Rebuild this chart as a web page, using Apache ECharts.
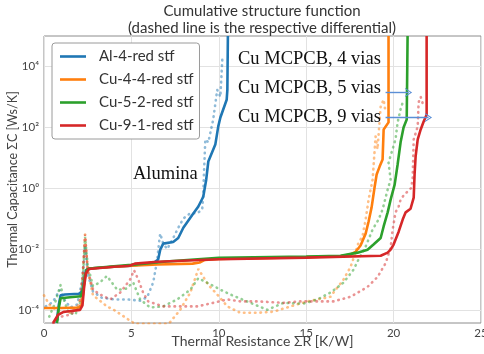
<!DOCTYPE html>
<html>
<head>
<meta charset="utf-8">
<script src="https://cdn.jsdelivr.net/npm/echarts@6/dist/echarts.min.js"></script>
<style>
  html, body { margin: 0; padding: 0; background: #fff; }
  #chart { width: 484px; height: 354px; }
</style>
</head>
<body>
<div id="chart"></div>
<script>
// Legend names and colours of the four samples
const sampleNames = ['Al-4-red stf', 'Cu-4-4-red stf', 'Cu-5-2-red stf', 'Cu-9-1-red stf'];
const sampleColors = ['#1f77b4', '#ff7f0e', '#2ca02c', '#d62728'];

// Axis ticks
const xTickValues = [0, 5, 10, 15, 20, 25];
const yTickValues = [1e-4, 1e-2, 1, 1e2, 1e4];
const yMin = 3.7e-5;
const yMax = 1e5;

// Cumulative structure functions: [ΣR (K/W), ΣC (Ws/K)]
const alCumulative = [
  [0.72, 3.7e-5], [0.85, 1.5e-4], [0.95, 3.0e-4], [1.2, 3.2e-4], [2.0, 3.4e-4], [2.2, 4.2e-4],
  [2.3, 1.0e-3], [2.4, 2.0e-3], [2.6, 2.3e-3], [4.0, 2.6e-3], [5.0, 2.8e-3], [6.3, 3.6e-3],
  [6.53, 4.5e-3], [6.65, 9.5e-3], [6.82, 1.5e-2], [7.39, 1.7e-2], [7.68, 2.3e-2], [7.97, 5e-2],
  [8.48, 0.13], [8.83, 0.25], [9.11, 0.52], [9.28, 1.9], [9.40, 7.5], [9.80, 27], [9.97, 107],
  [10.09, 210], [10.45, 800], [10.49, 1700], [10.52, 1e5]
];
const cu44Cumulative = [
  [0, 1.15e-4], [1.0, 1.15e-4], [2.0, 1.2e-4], [2.15, 1.4e-4], [2.25, 4e-4], [2.35, 1.3e-3],
  [2.45, 2.0e-3], [2.6, 2.3e-3], [4.0, 2.6e-3], [5.0, 2.8e-3], [6.5, 3.1e-3], [8.5, 3.3e-3],
  [8.9, 3.6e-3], [9.2, 4.4e-3], [10, 4.7e-3], [15, 5.4e-3], [17.0, 5.9e-3], [17.54, 6.6e-3],
  [17.82, 8e-3], [18.11, 1.3e-2], [18.40, 3.2e-2], [18.57, 8e-2], [18.74, 0.23], [18.91, 1.05],
  [19.03, 2.8], [19.2, 5.1], [19.37, 8.7], [19.43, 85], [19.71, 145], [19.71, 1e5]
];
const cu52Cumulative = [
  [0.74, 3.7e-5], [0.85, 1.2e-4], [0.95, 2.4e-4], [1.5, 2.6e-4], [2.1, 2.8e-4], [2.25, 5e-4],
  [2.35, 1.3e-3], [2.45, 2.1e-3], [2.6, 2.3e-3], [4.0, 2.7e-3], [5.0, 3.0e-3], [7.0, 3.9e-3],
  [10, 5.1e-3], [15, 5.7e-3], [16.96, 6e-3], [17.94, 7.6e-3], [18.51, 9.5e-3], [18.85, 1.4e-2],
  [19.26, 2.3e-2], [19.43, 5.5e-2], [19.66, 0.16], [19.83, 0.42], [20.06, 1.3], [20.23, 6],
  [20.40, 32], [20.57, 98], [20.75, 180], [20.8, 1e5]
];
const cu91Cumulative = [
  [0.52, 3.7e-5], [0.8, 6.8e-5], [1.1, 8.5e-5], [2.06, 1e-4], [2.2, 1.4e-4], [2.3, 6e-4],
  [2.4, 1.6e-3], [2.55, 2.2e-3], [4.0, 2.6e-3], [4.9, 2.8e-3], [5.2, 3.3e-3], [6.5, 3.8e-3],
  [10, 4.6e-3], [15, 5.2e-3], [19.26, 6e-3], [19.66, 7.6e-3], [19.83, 9.5e-3], [20.0, 1.4e-2],
  [20.29, 3.7e-2], [20.52, 9.3e-2], [20.69, 0.16], [20.97, 0.21], [21.15, 0.49], [21.2, 2.8],
  [21.26, 11], [21.38, 40], [21.55, 85], [21.72, 155], [21.89, 260], [21.89, 1e5]
];

// Differential structure functions (dotted)
const alDifferential = [
  [0.1, 1.3e-4], [0.5, 1.8e-4], [0.9, 4.5e-4], [1.1, 2.5e-4], [1.5, 1.2e-4], [1.9, 1.5e-4],
  [2.2, 1e-3], [2.35, 1.2e-2], [2.5, 1.5e-3], [2.8, 4e-4], [3.3, 2.5e-4], [4.0, 2.2e-4],
  [4.8, 2.2e-4], [5.5, 2e-4], [5.9, 2.6e-4], [6.25, 8e-4], [6.48, 4.5e-3], [6.6, 2e-2],
  [6.65, 3.2e-2], [6.82, 1.5e-2], [7.05, 1e-2], [7.34, 2e-2], [7.68, 5e-2], [7.97, 0.1],
  [8.37, 0.15], [8.77, 0.15], [9.05, 0.2], [9.11, 0.6], [9.15, 3], [9.23, 40], [9.4, 32],
  [9.68, 180], [9.91, 1700], [10.09, 1000], [10.2, 1.7e4], [10.3, 1.5e4]
];
const cu44Differential = [
  [0.0, 3e-4], [0.3, 1.5e-4], [0.7, 1e-4], [1.0, 9e-5], [1.5, 8e-5], [2.0, 1.5e-4], [2.2, 1e-3],
  [2.35, 3e-2], [2.5, 2e-3], [2.8, 3e-4], [3.2, 2e-4], [3.6, 1.3e-4], [4.0, 1e-4], [4.4, 7e-5],
  [4.9, 4.5e-5], [5.2, 3.5e-5], [7.1, 3.5e-5], [7.22, 4e-5], [7.79, 1e-4], [8.37, 3.7e-4],
  [8.83, 2.2e-3], [9.40, 6.6e-4], [9.91, 3.2e-4], [10.49, 1.3e-4], [11.23, 8e-5], [12.21, 8e-5],
  [13.12, 8.7e-5], [14.10, 1.3e-4], [15.07, 1.9e-4], [15.64, 2.2e-4], [16.39, 2.7e-4],
  [16.56, 3.7e-4], [17.13, 9.8e-4], [17.54, 2.6e-3], [17.82, 7.6e-3], [17.99, 1.6e-2],
  [18.22, 2.6e-2], [18.40, 9.3e-2], [18.57, 0.42], [18.80, 1.9], [18.97, 50], [19.08, 19],
  [19.26, 480], [19.43, 810], [19.54, 310]
];
const cu52Differential = [
  [0.3, 6e-5], [0.6, 1.5e-4], [0.95, 6.6e-4], [1.1, 2.5e-4], [1.4, 8e-5], [1.8, 7e-5],
  [2.1, 2e-4], [2.25, 2e-3], [2.35, 2.5e-2], [2.5, 3e-3], [2.8, 6e-4], [3.2, 8e-4],
  [3.6, 1.3e-3], [4.2, 4.5e-4], [4.7, 5e-4], [5.1, 8e-4], [5.5, 2.2e-4], [6.07, 1.2e-4],
  [6.82, 1.3e-4], [7.62, 2.2e-4], [8.37, 4.6e-4], [8.83, 1.1e-3], [9.34, 7.8e-4], [10.09, 4.6e-4],
  [10.66, 3.2e-4], [11.81, 1.7e-4], [12.78, 1e-4], [13.70, 1.7e-4], [14.84, 1.6e-4],
  [15.64, 2.2e-4], [16.39, 3.7e-4], [17.13, 7.8e-4], [17.71, 2.1e-3], [17.99, 4.5e-3],
  [18.40, 1.2e-2], [18.80, 4.4e-2], [19.14, 9.3e-2], [19.37, 0.2], [19.66, 0.9], [19.83, 1.9],
  [19.71, 6.9], [20.11, 40], [20.23, 145], [20.40, 390], [20.57, 810]
];
const cu91Differential = [
  [0.52, 3.7e-5], [1.0, 6e-5], [1.5, 7e-5], [2.06, 1.2e-4], [2.2, 1e-3], [2.35, 3e-2],
  [2.5, 2e-3], [2.81, 4.6e-4], [3.21, 3.2e-4], [3.78, 2.2e-4], [4.36, 3.7e-4], [4.93, 1e-3],
  [5.15, 2e-3], [5.39, 1e-3], [5.67, 3.7e-4], [5.96, 1.9e-4], [6.82, 1.3e-4], [7.79, 1.3e-4],
  [8.77, 1.3e-4], [9.68, 1.7e-4], [10.49, 2.2e-4], [11.23, 1.9e-4], [12.21, 1.9e-4],
  [13.70, 1.7e-4], [14.67, 1.9e-4], [15.64, 1.9e-4], [16.56, 1.9e-4], [17.54, 2.7e-4],
  [18.51, 5.7e-4], [19.08, 1.2e-3], [19.54, 3.4e-3], [19.83, 1.1e-2], [19.94, 4.1e-2],
  [20.11, 0.16], [20.29, 0.25], [20.40, 0.42], [20.6, 0.6], [21.0, 1.0], [21.09, 2],
  [21.15, 40], [21.38, 107], [21.43, 660], [21.55, 1000], [21.72, 480]
];

const cumulativeSets = [alCumulative, cu44Cumulative, cu52Cumulative, cu91Cumulative];
const differentialSets = [alDifferential, cu44Differential, cu52Differential, cu91Differential];

// Arrow annotations pointing from the via labels to the curves: [[x0, y], [x1, y]]
const arrowFiveVias = [[19.54, 1400], [20.86, 1400]];
const arrowNineVias = [[19.54, 210], [22.0, 210]];

const supDigits = { '-': '\u207B', '0': '\u2070', '1': '\u00B9', '2': '\u00B2', '3': '\u00B3', '4': '\u2074' };

const chart = echarts.init(document.getElementById('chart'), null, { renderer: 'canvas' });

const differentialSeries = differentialSets.map((d, i) => ({
  type: 'line',
  name: sampleNames[i] + ' d',
  data: d,
  showSymbol: false,
  symbol: 'none',
  silent: true,
  z: 2,
  lineStyle: { color: sampleColors[i], width: 2.6, opacity: 0.5, type: [0.5, 5], cap: 'round' }
}));

const chevron = 'path://M0,14 L7,0 L14,14 L12.2,14 L7,3.6 L1.8,14 Z';
// Thin bar used as the legend swatch (a plain line sample)
const legendBar = 'path://M0,0 L40,0 L40,4 L0,4 Z';

const cumulativeSeries = cumulativeSets.map((d, i) => ({
  type: 'line',
  name: sampleNames[i],
  data: d,
  showSymbol: false,
  symbol: 'none',
  z: 3,
  lineStyle: { color: sampleColors[i], width: 2.6 },
  itemStyle: { color: sampleColors[i] }
}));

// The arrows ride on the last series as mark lines in data coordinates
cumulativeSeries[3].markLine = {
  silent: true,
  symbol: ['none', chevron],
  symbolSize: [9, 7],
  label: { show: false },
  lineStyle: { color: '#5b8fd6', width: 1.4, type: 'solid' },
  data: [
    [{ coord: arrowFiveVias[0] }, { coord: arrowFiveVias[1] }],
    [{ coord: arrowNineVias[0] }, { coord: arrowNineVias[1] }]
  ]
};

const serifFont = '"Liberation Serif", "Times New Roman", serif';

chart.setOption({
  animation: false,
  backgroundColor: '#fff',
  grid: {
    left: 44, right: 3, top: 36, bottom: 31,
    outerBoundsMode: 'none',
    containLabel: false,
    show: true, borderColor: '#8c8c8c', borderWidth: 1, backgroundColor: 'transparent'
  },
  legend: {
    data: sampleNames.map(n => ({ name: n, icon: legendBar })),
    orient: 'vertical',
    left: 52, top: 43,
    padding: [6, 6, 6, 8],
    itemGap: 8,
    itemWidth: 26,
    itemHeight: 14,
    borderColor: '#9a9a9a',
    borderWidth: 1,
    borderRadius: 3,
    backgroundColor: '#fff',
    textStyle: { fontFamily: 'Lato', fontSize: 15, color: '#333', padding: [0, 0, 0, 8] }
  },
  xAxis: {
    type: 'value',
    min: 0, max: 25, interval: 5,
    name: 'Thermal Resistance \u03A3R [K/W]',
    nameLocation: 'middle',
    nameGap: 11,
    nameMoveOverlap: false,
    nameTextStyle: { fontFamily: 'Lato', fontSize: 14, color: '#444', verticalAlign: 'top' },
    axisLine: { show: false },
    axisTick: { show: false },
    axisLabel: {
      margin: 4, fontFamily: 'Lato', fontSize: 11.5, color: '#444',
      customValues: xTickValues
    },
    splitLine: { show: true, lineStyle: { color: '#e2e2e2', width: 1 } }
  },
  yAxis: {
    type: 'log',
    logBase: 10,
    min: yMin, max: yMax,
    name: 'Thermal Capacitance \u03A3C [Ws/K]',
    nameLocation: 'middle',
    nameGap: 25,
    nameMoveOverlap: false,
    nameTextStyle: { fontFamily: 'Lato', fontSize: 12.5, color: '#444' },
    axisLine: { show: false },
    axisTick: { show: false, customValues: yTickValues },
    axisLabel: {
      margin: 5,
      customValues: yTickValues,
      fontFamily: 'Lato', fontSize: 11.5, color: '#444',
      formatter: v => {
        const e = String(Math.round(Math.log10(v)));
        return '10' + e.split('').map(c => supDigits[c]).join('');
      }
    },
    splitLine: { show: true, lineStyle: { color: '#e2e2e2', width: 1 } }
  },
  graphic: [
    { type: 'text', x: 262, y: 11, style: { text: 'Cumulative structure function', font: '15px Lato', fill: '#333', align: 'center', verticalAlign: 'middle' } },
    { type: 'text', x: 262, y: 28, style: { text: '(dashed line is the respective differential)', font: '15px Lato', fill: '#333', align: 'center', verticalAlign: 'middle' } },
    { type: 'text', x: 238, y: 59, z: 10, style: { text: 'Cu MCPCB, 4 vias', font: '18.5px ' + serifFont, fill: '#111', align: 'left', verticalAlign: 'middle' } },
    { type: 'text', x: 238, y: 88, z: 10, style: { text: 'Cu MCPCB, 5 vias', font: '18.5px ' + serifFont, fill: '#111', align: 'left', verticalAlign: 'middle' } },
    { type: 'text', x: 238, y: 117, z: 10, style: { text: 'Cu MCPCB, 9 vias', font: '18.5px ' + serifFont, fill: '#111', align: 'left', verticalAlign: 'middle' } },
    { type: 'text', x: 133, y: 174, z: 10, style: { text: 'Alumina', font: '18.5px ' + serifFont, fill: '#111', align: 'left', verticalAlign: 'middle' } }
  ],
  series: differentialSeries.concat(cumulativeSeries)
});
</script>
</body>
</html>
